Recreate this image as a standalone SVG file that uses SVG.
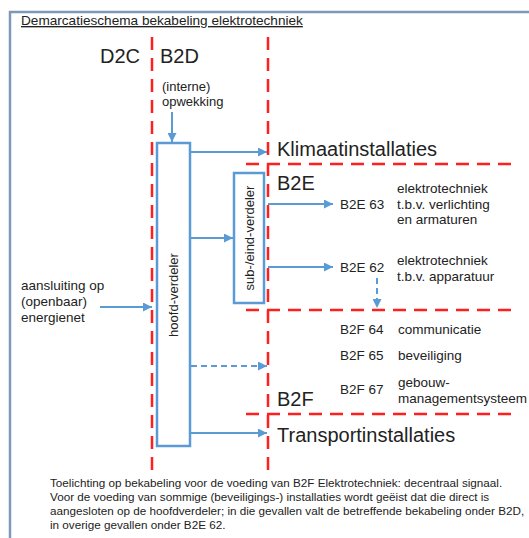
<svg xmlns="http://www.w3.org/2000/svg" width="529" height="538" viewBox="0 0 529 538">
<style>
text{font-family:"Liberation Sans",Arial,sans-serif;fill:#222}
.big{font-size:20px}
.mid{font-size:13.5px}
.sm{font-size:13px}
.note{font-size:11.7px}
.red{stroke:#ff1f1f;stroke-width:2.5;stroke-dasharray:13 8;fill:none}
.conn{stroke:#5b9bd5;stroke-width:2;fill:none}
.dash{stroke-dasharray:6 4}
.box{stroke:#5b9bd5;stroke-width:2.5;fill:#fff}
</style>
<defs>
<marker id="ah" viewBox="0 0 10 10" refX="10" refY="5" markerWidth="4.5" markerHeight="4.5" orient="auto" markerUnits="strokeWidth">
<path d="M0,0 L10,5 L0,10 z" fill="#5b9bd5"/>
</marker>
</defs>
<rect width="529" height="538" fill="#fff"/>
<g id="frame">
<path d="M10,538 V12 H529" stroke="#7f98b9" stroke-width="2.5" fill="none"/>
<text x="21" y="25" style="font-size:13.6px" text-decoration="underline">Demarcatieschema bekabeling elektrotechniek</text>
</g>
<g id="boundaries">
<line class="red" x1="152" y1="37" x2="152" y2="472"/>
<line class="red" x1="268" y1="37" x2="268" y2="472"/>
<line class="red" x1="246" y1="164" x2="515" y2="164"/>
<line class="red" x1="246" y1="310" x2="515" y2="310"/>
<line class="red" x1="246" y1="414" x2="515" y2="414"/>
</g>
<g id="zone-labels">
<text class="big" x="100" y="63">D2C</text>
<text class="big" x="160" y="63">B2D</text>
<text class="big" x="277" y="156">Klimaatinstallaties</text>
<text class="big" x="277" y="190">B2E</text>
<text class="big" x="277" y="406">B2F</text>
<text class="big" x="277" y="442">Transportinstallaties</text>
</g>
<g id="opwekking">
<text class="sm" x="162" y="91">(interne)</text>
<text class="sm" x="162" y="106">opwekking</text>
</g>
<g id="aansluiting">
<text class="mid" x="21" y="290">aansluiting op</text>
<text class="mid" x="21" y="306">(openbaar)</text>
<text class="mid" x="21" y="322">energienet</text>
</g>
<g id="hoofd-verdeler">
<rect class="box" x="157" y="143" width="33" height="303"/>
<text class="sm" transform="translate(178,295) rotate(-90)" text-anchor="middle">hoofd-verdeler</text>
</g>
<g id="sub-eind-verdeler">
<rect class="box" x="234" y="173" width="30" height="130"/>
<text class="sm" transform="translate(253.5,238) rotate(-90)" text-anchor="middle">sub-/eind-verdeler</text>
</g>
<g id="b2e63">
<text class="mid" x="340" y="209">B2E 63</text>
<text class="mid" x="397" y="193">elektrotechniek</text>
<text class="mid" x="397" y="209">t.b.v. verlichting</text>
<text class="mid" x="397" y="224">en armaturen</text>
</g>
<g id="b2e62">
<text class="mid" x="340" y="272">B2E 62</text>
<text class="mid" x="397" y="265">elektrotechniek</text>
<text class="mid" x="397" y="281">t.b.v. apparatuur</text>
</g>
<g id="b2f">
<text class="mid" x="340" y="334">B2F 64</text>
<text class="mid" x="398" y="334">communicatie</text>
<text class="mid" x="340" y="360">B2F 65</text>
<text class="mid" x="398" y="360">beveiliging</text>
<text class="mid" x="340" y="394">B2F 67</text>
<text class="mid" x="398" y="387">gebouw-</text>
<text class="mid" x="398" y="403">managementsysteem</text>
</g>
<g id="connectors">
<line class="conn" x1="172" y1="112" x2="172" y2="142" marker-end="url(#ah)"/>
<line class="conn" x1="100" y1="307" x2="152" y2="307" marker-end="url(#ah)"/>
<line class="conn" x1="191" y1="152" x2="267" y2="152" marker-end="url(#ah)"/>
<line class="conn" x1="191" y1="238" x2="233" y2="238" marker-end="url(#ah)"/>
<line class="conn" x1="268" y1="204" x2="333" y2="204" marker-end="url(#ah)"/>
<line class="conn" x1="268" y1="267" x2="333" y2="267" marker-end="url(#ah)"/>
<line class="conn dash" x1="377" y1="278" x2="377" y2="308" marker-end="url(#ah)"/>
<line class="conn dash" x1="191" y1="366" x2="267" y2="366" marker-end="url(#ah)"/>
<line class="conn" x1="191" y1="433" x2="267" y2="433" marker-end="url(#ah)"/>
</g>
<g id="note">
<text class="note" x="50" y="487">Toelichting op bekabeling voor de voeding van B2F Elektrotechniek: decentraal signaal.</text>
<text class="note" x="50" y="501">Voor de voeding van sommige (beveiligings-) installaties wordt geëist dat die direct is</text>
<text class="note" x="50" y="515">aangesloten op de hoofdverdeler; in die gevallen valt de betreffende bekabeling onder B2D,</text>
<text class="note" x="50" y="529">in overige gevallen onder B2E 62.</text>
</g>
</svg>
